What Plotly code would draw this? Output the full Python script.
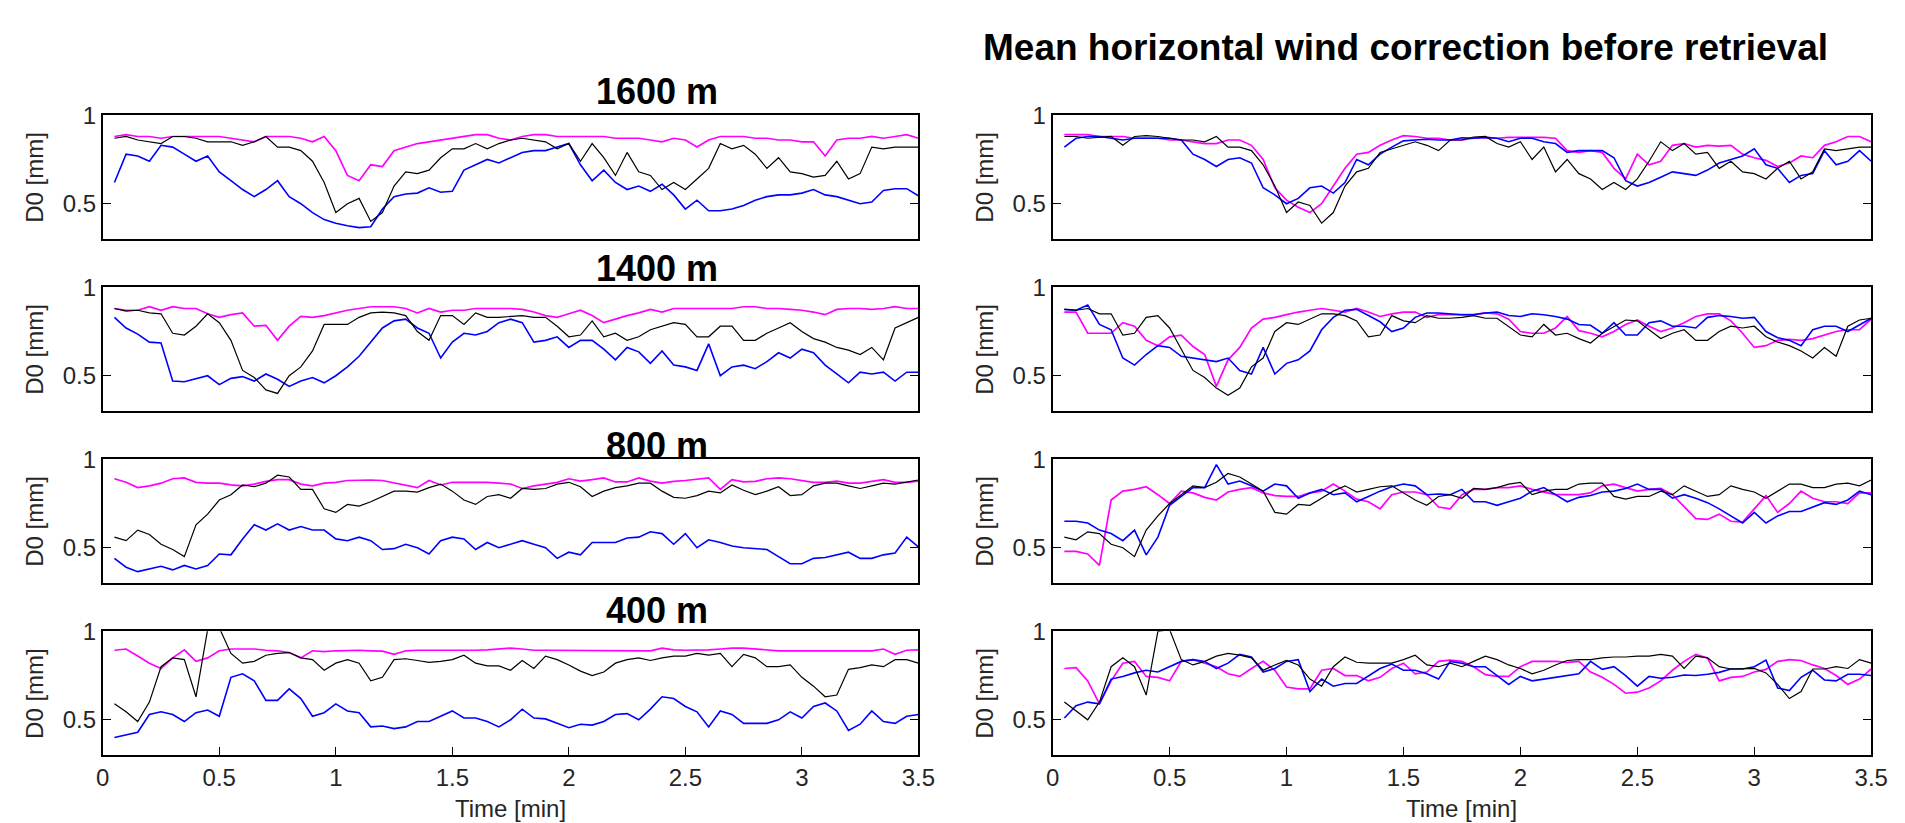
import plotly.graph_objects as go

# ---------------- data ----------------
time_min = [0.05, 0.10, 0.15, 0.20, 0.25, 0.30, 0.35, 0.40, 0.45, 0.50,
            0.55, 0.60, 0.65, 0.70, 0.75, 0.80, 0.85, 0.90, 0.95, 1.00,
            1.05, 1.10, 1.15, 1.20, 1.25, 1.30, 1.35, 1.40, 1.45, 1.50,
            1.55, 1.60, 1.65, 1.70, 1.75, 1.80, 1.85, 1.90, 1.95, 2.00,
            2.05, 2.10, 2.15, 2.20, 2.25, 2.30, 2.35, 2.40, 2.45, 2.50,
            2.55, 2.60, 2.65, 2.70, 2.75, 2.80, 2.85, 2.90, 2.95, 3.00,
            3.05, 3.10, 3.15, 3.20, 3.25, 3.30, 3.35, 3.40, 3.45, 3.50]

# ---- left column (no correction) ----
h1600_magenta = [0.88, 0.89, 0.88, 0.88, 0.87, 0.88, 0.88, 0.88, 0.88, 0.88,
                 0.87, 0.86, 0.85, 0.88, 0.88, 0.88, 0.87, 0.85, 0.88, 0.80,
                 0.66, 0.63, 0.72, 0.71, 0.80, 0.82, 0.84, 0.85, 0.86, 0.87,
                 0.88, 0.89, 0.89, 0.87, 0.86, 0.88, 0.89, 0.89, 0.88, 0.88,
                 0.88, 0.88, 0.88, 0.87, 0.87, 0.87, 0.86, 0.85, 0.87, 0.86,
                 0.82, 0.86, 0.88, 0.88, 0.88, 0.87, 0.87, 0.86, 0.86, 0.85,
                 0.85, 0.77, 0.86, 0.87, 0.87, 0.88, 0.87, 0.88, 0.89, 0.87]
h1600_black = [0.87, 0.88, 0.86, 0.85, 0.84, 0.88, 0.88, 0.87, 0.85, 0.85,
               0.85, 0.83, 0.85, 0.88, 0.82, 0.82, 0.80, 0.74, 0.62, 0.45,
               0.50, 0.53, 0.40, 0.45, 0.60, 0.68, 0.67, 0.69, 0.76, 0.81,
               0.81, 0.84, 0.81, 0.84, 0.86, 0.87, 0.86, 0.85, 0.81, 0.84,
               0.74, 0.84, 0.76, 0.66, 0.79, 0.68, 0.66, 0.58, 0.62, 0.58,
               0.64, 0.70, 0.84, 0.81, 0.83, 0.78, 0.70, 0.76, 0.68, 0.67,
               0.65, 0.66, 0.74, 0.64, 0.67, 0.82, 0.81, 0.82, 0.82, 0.82]
h1600_blue = [0.62, 0.78, 0.77, 0.74, 0.83, 0.82, 0.78, 0.74, 0.77, 0.68,
              0.63, 0.58, 0.54, 0.58, 0.63, 0.54, 0.50, 0.45, 0.41, 0.39,
              0.375, 0.365, 0.37, 0.47, 0.54, 0.555, 0.56, 0.59, 0.565, 0.57,
              0.69, 0.72, 0.75, 0.73, 0.76, 0.79, 0.80, 0.80, 0.82, 0.84,
              0.72, 0.63, 0.69, 0.62, 0.58, 0.60, 0.57, 0.61, 0.55, 0.47,
              0.52, 0.46, 0.46, 0.47, 0.49, 0.52, 0.54, 0.55, 0.55, 0.56,
              0.58, 0.55, 0.54, 0.52, 0.50, 0.51, 0.575, 0.585, 0.585, 0.545]

h1400_magenta = [0.88, 0.87, 0.87, 0.89, 0.87, 0.89, 0.88, 0.88, 0.85, 0.83,
                 0.845, 0.855, 0.78, 0.785, 0.70, 0.78, 0.835, 0.83, 0.84, 0.855,
                 0.87, 0.88, 0.89, 0.89, 0.89, 0.88, 0.855, 0.88, 0.86, 0.87,
                 0.87, 0.88, 0.88, 0.88, 0.88, 0.875, 0.86, 0.84, 0.83, 0.85,
                 0.87, 0.84, 0.80, 0.82, 0.84, 0.855, 0.875, 0.86, 0.88, 0.88,
                 0.88, 0.88, 0.88, 0.88, 0.89, 0.89, 0.88, 0.88, 0.875, 0.87,
                 0.86, 0.845, 0.875, 0.88, 0.88, 0.875, 0.88, 0.89, 0.88, 0.88]
h1400_black = [0.88, 0.865, 0.87, 0.855, 0.85, 0.74, 0.73, 0.78, 0.85, 0.80,
               0.70, 0.53, 0.49, 0.42, 0.40, 0.50, 0.55, 0.64, 0.79, 0.79,
               0.79, 0.83, 0.855, 0.86, 0.855, 0.84, 0.75, 0.70, 0.84, 0.84,
               0.79, 0.855, 0.83, 0.83, 0.835, 0.84, 0.83, 0.83, 0.78, 0.72,
               0.73, 0.81, 0.72, 0.74, 0.70, 0.72, 0.76, 0.78, 0.80, 0.79,
               0.72, 0.72, 0.78, 0.78, 0.70, 0.70, 0.74, 0.77, 0.80, 0.75,
               0.71, 0.69, 0.66, 0.645, 0.62, 0.66, 0.59, 0.77, 0.80, 0.83]
h1400_blue = [0.83, 0.77, 0.735, 0.69, 0.685, 0.47, 0.466, 0.485, 0.50, 0.45,
              0.485, 0.495, 0.47, 0.51, 0.48, 0.44, 0.47, 0.49, 0.46, 0.50,
              0.55, 0.61, 0.69, 0.77, 0.81, 0.82, 0.77, 0.74, 0.60, 0.69,
              0.74, 0.73, 0.75, 0.80, 0.82, 0.80, 0.69, 0.70, 0.72, 0.66,
              0.70, 0.70, 0.65, 0.59, 0.66, 0.635, 0.57, 0.64, 0.56, 0.55,
              0.53, 0.68, 0.50, 0.55, 0.56, 0.54, 0.58, 0.63, 0.60, 0.65,
              0.63, 0.56, 0.51, 0.46, 0.52, 0.51, 0.52, 0.47, 0.52, 0.52]

h800_magenta = [0.89, 0.87, 0.84, 0.85, 0.865, 0.89, 0.895, 0.87, 0.865, 0.865,
                0.855, 0.85, 0.86, 0.875, 0.885, 0.885, 0.86, 0.85, 0.865, 0.87,
                0.88, 0.883, 0.883, 0.88, 0.867, 0.855, 0.84, 0.88, 0.855, 0.87,
                0.87, 0.87, 0.87, 0.865, 0.86, 0.835, 0.85, 0.86, 0.87, 0.89,
                0.877, 0.885, 0.895, 0.872, 0.872, 0.895, 0.877, 0.865, 0.875, 0.88,
                0.886, 0.895, 0.83, 0.885, 0.872, 0.875, 0.89, 0.895, 0.89, 0.88,
                0.87, 0.87, 0.877, 0.865, 0.865, 0.875, 0.885, 0.87, 0.87, 0.877]
h800_black = [0.56, 0.54, 0.60, 0.575, 0.52, 0.49, 0.45, 0.63, 0.69, 0.77,
              0.80, 0.855, 0.845, 0.865, 0.91, 0.90, 0.83, 0.83, 0.72, 0.70,
              0.745, 0.735, 0.76, 0.79, 0.82, 0.82, 0.815, 0.84, 0.86, 0.82,
              0.77, 0.745, 0.79, 0.80, 0.78, 0.835, 0.83, 0.835, 0.86, 0.87,
              0.845, 0.79, 0.82, 0.84, 0.85, 0.865, 0.865, 0.82, 0.785, 0.78,
              0.795, 0.82, 0.81, 0.855, 0.825, 0.80, 0.82, 0.845, 0.795, 0.80,
              0.85, 0.865, 0.865, 0.85, 0.835, 0.85, 0.865, 0.86, 0.87, 0.883]
h800_blue = [0.44, 0.39, 0.365, 0.38, 0.395, 0.375, 0.40, 0.38, 0.40, 0.465,
             0.46, 0.55, 0.63, 0.60, 0.635, 0.60, 0.62, 0.60, 0.60, 0.55,
             0.54, 0.56, 0.54, 0.49, 0.495, 0.52, 0.50, 0.465, 0.54, 0.56,
             0.55, 0.49, 0.53, 0.50, 0.52, 0.54, 0.52, 0.50, 0.44, 0.475,
             0.46, 0.53, 0.53, 0.53, 0.555, 0.56, 0.59, 0.58, 0.52, 0.58,
             0.50, 0.545, 0.53, 0.51, 0.50, 0.495, 0.49, 0.45, 0.41, 0.41,
             0.44, 0.445, 0.46, 0.475, 0.44, 0.44, 0.46, 0.47, 0.56, 0.505]

h400_magenta = [0.893, 0.90, 0.86, 0.82, 0.79, 0.85, 0.895, 0.83, 0.85, 0.89,
                0.90, 0.90, 0.90, 0.893, 0.89, 0.88, 0.85, 0.89, 0.885, 0.89,
                0.893, 0.893, 0.89, 0.888, 0.87, 0.89, 0.893, 0.893, 0.89, 0.89,
                0.89, 0.893, 0.895, 0.90, 0.905, 0.90, 0.893, 0.893, 0.893, 0.893,
                0.893, 0.893, 0.893, 0.89, 0.89, 0.893, 0.89, 0.905, 0.895, 0.893,
                0.893, 0.895, 0.90, 0.905, 0.905, 0.90, 0.893, 0.89, 0.89, 0.89,
                0.89, 0.89, 0.89, 0.89, 0.89, 0.89, 0.90, 0.87, 0.893, 0.895]
h400_black = [0.59, 0.545, 0.49, 0.60, 0.80, 0.85, 0.84, 0.63, 1.01, 1.02,
              0.875, 0.82, 0.83, 0.865, 0.875, 0.88, 0.85, 0.84, 0.78, 0.82,
              0.84, 0.82, 0.72, 0.74, 0.84, 0.845, 0.835, 0.825, 0.83, 0.84,
              0.865, 0.82, 0.805, 0.805, 0.78, 0.835, 0.79, 0.86, 0.84, 0.81,
              0.775, 0.75, 0.77, 0.82, 0.84, 0.85, 0.835, 0.85, 0.86, 0.86,
              0.875, 0.865, 0.875, 0.80, 0.87, 0.85, 0.80, 0.80, 0.81, 0.74,
              0.69, 0.63, 0.64, 0.785, 0.795, 0.81, 0.80, 0.84, 0.84, 0.82]
h400_blue = [0.40, 0.415, 0.43, 0.53, 0.545, 0.53, 0.49, 0.54, 0.555, 0.52,
             0.74, 0.76, 0.72, 0.61, 0.61, 0.675, 0.62, 0.52, 0.54, 0.59,
             0.55, 0.54, 0.46, 0.465, 0.45, 0.46, 0.49, 0.49, 0.52, 0.55,
             0.51, 0.51, 0.49, 0.46, 0.50, 0.56, 0.51, 0.505, 0.48, 0.455,
             0.475, 0.47, 0.49, 0.53, 0.535, 0.50, 0.56, 0.63, 0.62, 0.575,
             0.545, 0.46, 0.55, 0.53, 0.48, 0.48, 0.48, 0.50, 0.545, 0.51,
             0.575, 0.595, 0.55, 0.44, 0.475, 0.55, 0.49, 0.48, 0.52, 0.53]

# ---- right column (mean horizontal wind correction before retrieval) ----
c1600_magenta = [0.89, 0.89, 0.89, 0.88, 0.88, 0.88, 0.87, 0.87, 0.87, 0.86,
                 0.86, 0.85, 0.84, 0.84, 0.86, 0.86, 0.83, 0.75, 0.59, 0.52,
                 0.48, 0.45, 0.50, 0.60, 0.70, 0.78, 0.79, 0.83, 0.86, 0.885,
                 0.88, 0.87, 0.87, 0.86, 0.86, 0.87, 0.875, 0.87, 0.875, 0.875,
                 0.875, 0.875, 0.87, 0.80, 0.79, 0.80, 0.79, 0.70, 0.64, 0.78,
                 0.72, 0.74, 0.83, 0.84, 0.82, 0.83, 0.825, 0.83, 0.78, 0.76,
                 0.745, 0.71, 0.73, 0.77, 0.76, 0.83, 0.85, 0.88, 0.88, 0.85]
c1600_black = [0.88, 0.88, 0.87, 0.875, 0.88, 0.83, 0.88, 0.885, 0.88, 0.87,
               0.86, 0.86, 0.85, 0.88, 0.82, 0.82, 0.80, 0.72, 0.60, 0.45,
               0.51, 0.49, 0.39, 0.45, 0.60, 0.68, 0.70, 0.79, 0.81, 0.83,
               0.85, 0.83, 0.80, 0.86, 0.86, 0.877, 0.88, 0.84, 0.82, 0.85,
               0.75, 0.82, 0.68, 0.75, 0.67, 0.64, 0.58, 0.62, 0.58, 0.64,
               0.74, 0.85, 0.80, 0.84, 0.78, 0.79, 0.70, 0.74, 0.68, 0.67,
               0.64, 0.70, 0.74, 0.64, 0.68, 0.81, 0.80, 0.81, 0.82, 0.82]
c1600_blue = [0.82, 0.87, 0.88, 0.88, 0.87, 0.86, 0.87, 0.87, 0.87, 0.87,
              0.86, 0.78, 0.75, 0.71, 0.75, 0.76, 0.73, 0.59, 0.55, 0.50,
              0.53, 0.59, 0.60, 0.56, 0.62, 0.75, 0.72, 0.78, 0.82, 0.855,
              0.86, 0.864, 0.86, 0.86, 0.873, 0.87, 0.875, 0.87, 0.85, 0.87,
              0.87, 0.85, 0.84, 0.79, 0.80, 0.80, 0.80, 0.76, 0.63, 0.60,
              0.62, 0.65, 0.68, 0.67, 0.66, 0.69, 0.73, 0.75, 0.77, 0.81,
              0.72, 0.70, 0.62, 0.66, 0.67, 0.80, 0.72, 0.74, 0.80, 0.74]

c1400_magenta = [0.86, 0.86, 0.74, 0.74, 0.74, 0.80, 0.78, 0.70, 0.67, 0.72,
                 0.73, 0.665, 0.62, 0.44, 0.59, 0.66, 0.77, 0.82, 0.83, 0.845,
                 0.86, 0.87, 0.88, 0.87, 0.86, 0.88, 0.86, 0.835, 0.85, 0.86,
                 0.86, 0.83, 0.845, 0.845, 0.845, 0.845, 0.855, 0.85, 0.82, 0.75,
                 0.74, 0.74, 0.77, 0.835, 0.755, 0.74, 0.72, 0.75, 0.79, 0.815,
                 0.78, 0.75, 0.77, 0.80, 0.835, 0.85, 0.85, 0.81, 0.74, 0.66,
                 0.67, 0.70, 0.705, 0.70, 0.71, 0.73, 0.75, 0.76, 0.76, 0.82]
c1400_black = [0.875, 0.87, 0.88, 0.85, 0.85, 0.73, 0.74, 0.83, 0.84, 0.77,
               0.65, 0.53, 0.49, 0.43, 0.39, 0.43, 0.55, 0.60, 0.75, 0.80,
               0.79, 0.82, 0.85, 0.85, 0.84, 0.81, 0.72, 0.73, 0.84, 0.81,
               0.80, 0.84, 0.825, 0.825, 0.83, 0.84, 0.825, 0.825, 0.78, 0.73,
               0.72, 0.79, 0.73, 0.74, 0.71, 0.685, 0.74, 0.78, 0.815, 0.81,
               0.76, 0.71, 0.74, 0.76, 0.70, 0.70, 0.75, 0.78, 0.77, 0.78,
               0.72, 0.69, 0.67, 0.64, 0.60, 0.66, 0.61, 0.78, 0.815, 0.825]
c1400_blue = [0.875, 0.87, 0.90, 0.79, 0.76, 0.60, 0.56, 0.62, 0.67, 0.66,
              0.61, 0.60, 0.59, 0.58, 0.60, 0.53, 0.51, 0.66, 0.51, 0.57,
              0.59, 0.64, 0.76, 0.83, 0.87, 0.875, 0.84, 0.805, 0.75, 0.77,
              0.83, 0.855, 0.855, 0.85, 0.845, 0.845, 0.855, 0.86, 0.84, 0.835,
              0.85, 0.845, 0.835, 0.82, 0.79, 0.785, 0.74, 0.80, 0.73, 0.73,
              0.80, 0.81, 0.78, 0.78, 0.77, 0.83, 0.84, 0.835, 0.825, 0.83,
              0.75, 0.715, 0.70, 0.67, 0.76, 0.78, 0.78, 0.75, 0.79, 0.825]

c800_magenta = [0.48, 0.48, 0.465, 0.40, 0.77, 0.82, 0.83, 0.845, 0.80, 0.75,
                0.82, 0.81, 0.785, 0.77, 0.815, 0.83, 0.84, 0.81, 0.795, 0.79,
                0.79, 0.81, 0.82, 0.86, 0.82, 0.775, 0.76, 0.72, 0.80, 0.815,
                0.815, 0.80, 0.73, 0.72, 0.80, 0.83, 0.83, 0.84, 0.84, 0.85,
                0.83, 0.815, 0.80, 0.80, 0.80, 0.81, 0.85, 0.86, 0.84, 0.82,
                0.83, 0.835, 0.80, 0.73, 0.665, 0.66, 0.69, 0.65, 0.645, 0.72,
                0.795, 0.70, 0.75, 0.82, 0.78, 0.76, 0.76, 0.75, 0.81, 0.81]
c800_black = [0.56, 0.545, 0.59, 0.58, 0.52, 0.50, 0.45, 0.60, 0.68, 0.75,
              0.80, 0.85, 0.84, 0.87, 0.92, 0.90, 0.86, 0.82, 0.70, 0.69,
              0.745, 0.74, 0.78, 0.82, 0.85, 0.815, 0.83, 0.845, 0.85, 0.81,
              0.77, 0.74, 0.79, 0.80, 0.78, 0.835, 0.83, 0.84, 0.86, 0.87,
              0.80, 0.82, 0.83, 0.83, 0.86, 0.865, 0.865, 0.79, 0.775, 0.79,
              0.79, 0.82, 0.80, 0.85, 0.82, 0.79, 0.80, 0.85, 0.83, 0.815,
              0.78, 0.82, 0.86, 0.86, 0.84, 0.84, 0.86, 0.865, 0.85, 0.883]
c800_blue = [0.65, 0.65, 0.64, 0.60, 0.58, 0.54, 0.60, 0.46, 0.56, 0.74,
             0.79, 0.84, 0.84, 0.97, 0.86, 0.877, 0.85, 0.82, 0.86, 0.85,
             0.78, 0.81, 0.83, 0.80, 0.81, 0.76, 0.79, 0.82, 0.845, 0.86,
             0.85, 0.80, 0.804, 0.80, 0.83, 0.76, 0.76, 0.74, 0.76, 0.78,
             0.82, 0.84, 0.80, 0.76, 0.785, 0.795, 0.815, 0.82, 0.835, 0.86,
             0.83, 0.83, 0.78, 0.80, 0.78, 0.755, 0.72, 0.68, 0.64, 0.70,
             0.64, 0.68, 0.705, 0.705, 0.73, 0.755, 0.745, 0.77, 0.82, 0.80]

c400_magenta = [0.79, 0.795, 0.72, 0.59, 0.72, 0.82, 0.83, 0.745, 0.74, 0.72,
                0.83, 0.84, 0.82, 0.80, 0.76, 0.745, 0.79, 0.83, 0.78, 0.685,
                0.675, 0.675, 0.78, 0.79, 0.75, 0.75, 0.72, 0.74, 0.79, 0.82,
                0.76, 0.77, 0.83, 0.837, 0.83, 0.80, 0.755, 0.745, 0.745, 0.80,
                0.83, 0.83, 0.83, 0.825, 0.83, 0.77, 0.74, 0.70, 0.65, 0.656,
                0.68, 0.72, 0.78, 0.83, 0.87, 0.85, 0.72, 0.74, 0.745, 0.77,
                0.785, 0.83, 0.84, 0.835, 0.81, 0.79, 0.75, 0.70, 0.73, 0.787]
c400_black = [0.60, 0.55, 0.50, 0.60, 0.80, 0.85, 0.80, 0.64, 1.00, 1.01,
              0.84, 0.81, 0.83, 0.86, 0.875, 0.865, 0.85, 0.78, 0.81, 0.835,
              0.81, 0.73, 0.69, 0.80, 0.855, 0.825, 0.82, 0.82, 0.82, 0.84,
              0.865, 0.81, 0.80, 0.82, 0.80, 0.83, 0.86, 0.84, 0.81, 0.79,
              0.76, 0.78, 0.81, 0.835, 0.84, 0.84, 0.85, 0.855, 0.855, 0.86,
              0.86, 0.87, 0.86, 0.79, 0.86, 0.85, 0.80, 0.787, 0.79, 0.79,
              0.765, 0.70, 0.62, 0.66, 0.787, 0.787, 0.80, 0.79, 0.84, 0.82]
c400_blue = [0.51, 0.58, 0.60, 0.59, 0.73, 0.745, 0.765, 0.78, 0.77, 0.80,
             0.83, 0.84, 0.83, 0.79, 0.82, 0.87, 0.855, 0.77, 0.79, 0.83,
             0.84, 0.66, 0.73, 0.69, 0.705, 0.705, 0.75, 0.79, 0.815, 0.78,
             0.78, 0.76, 0.73, 0.83, 0.82, 0.80, 0.80, 0.75, 0.70, 0.745,
             0.72, 0.73, 0.74, 0.75, 0.76, 0.83, 0.785, 0.80, 0.75, 0.69,
             0.745, 0.735, 0.74, 0.753, 0.75, 0.757, 0.768, 0.787, 0.787, 0.80,
             0.837, 0.68, 0.665, 0.74, 0.78, 0.725, 0.72, 0.757, 0.757, 0.75]

main_title = "Mean horizontal wind correction before retrieval"
row_titles = ["1600 m", "1400 m", "800 m", "400 m"]
x_ticks = [0, 0.5, 1, 1.5, 2, 2.5, 3, 3.5]
x_tick_text = ["0", "0.5", "1", "1.5", "2", "2.5", "3", "3.5"]
y_ticks = [0.5, 1]
y_tick_text = ["0.5", "1"]
y_label = "D0 [mm]"
x_label = "Time [min]"

panels = [
    [(h1600_magenta, h1600_blue, h1600_black), (c1600_magenta, c1600_blue, c1600_black)],
    [(h1400_magenta, h1400_blue, h1400_black), (c1400_magenta, c1400_blue, c1400_black)],
    [(h800_magenta, h800_blue, h800_black), (c800_magenta, c800_blue, c800_black)],
    [(h400_magenta, h400_blue, h400_black), (c400_magenta, c400_blue, c400_black)],
]

# ---------------- layout geometry (pixels) ----------------
W, H = 1905, 823
col_px = [(97, 923), (1059, 1888)]
row_top_px = [103, 278, 453, 628]
row_h_px = 126
subtitle_y_px = [79, 259, 439, 607]
subtitle_x_px = 658

FONT = "Liberation Sans, Arial, Helvetica, sans-serif"
TXT = "#262626"
colors = ["#FF00FF", "#0000FF", "#000000"]
widths = [1.7, 1.6, 1.2]

fig = go.Figure()
layout = dict(
    width=W, height=H,
    margin=dict(l=0, r=0, t=0, b=0),
    paper_bgcolor="white", plot_bgcolor="white",
    showlegend=False,
    font=dict(family=FONT, color=TXT),
)
annotations = []

for r in range(4):
    for c in range(2):
        k = r * 2 + c + 1
        sfx = "" if k == 1 else str(k)
        series = panels[r][c]
        for vals, col, w in zip(series, colors, widths):
            fig.add_trace(go.Scatter(
                x=time_min, y=vals, mode="lines",
                line=dict(color=col, width=w),
                xaxis="x" + sfx, yaxis="y" + sfx,
                hoverinfo="skip",
            ))
        x0, x1 = col_px[c]
        top = row_top_px[r]
        bot = top + row_h_px
        bottom_row = (r == 3)
        layout["xaxis" + sfx] = dict(
            domain=[x0 / W, x1 / W], anchor="y" + sfx,
            range=[0, 3.5], showgrid=False, zeroline=False,
            showline=True, linecolor="black", linewidth=1.8, mirror=True,
            tickvals=x_ticks, ticktext=x_tick_text,
            ticks="inside" if bottom_row else "", ticklen=8, tickcolor="black",
            showticklabels=bottom_row, ticklabelstandoff=0,
            tickfont=dict(size=24, family=FONT, color=TXT),
            fixedrange=True,
        )
        layout["yaxis" + sfx] = dict(
            domain=[1 - bot / H, 1 - top / H], anchor="x" + sfx,
            range=[0.3, 1.0], showgrid=False, zeroline=False,
            showline=True, linecolor="black", linewidth=1.8, mirror="ticks",
            tickvals=y_ticks, ticktext=y_tick_text,
            ticks="inside", ticklen=8, tickcolor="black",
            ticklabelstandoff=0,
            tickfont=dict(size=24, family=FONT, color=TXT),
            fixedrange=True,
        )
        # y axis label
        annotations.append(dict(
            text=y_label, xref="paper", yref="paper",
            x=(x0 - 69) / W, y=1 - (top + row_h_px / 2) / H,
            xanchor="center", yanchor="middle", textangle=-90, showarrow=False,
            font=dict(size=24, family=FONT, color=TXT),
        ))
    # row subtitle
    annotations.append(dict(
        text="<b>" + row_titles[r] + "</b>", xref="paper", yref="paper",
        x=subtitle_x_px / W, y=1 - subtitle_y_px[r] / H,
        xanchor="center", yanchor="middle", showarrow=False,
        font=dict(size=36, family=FONT, color="black"),
    ))

for c in range(2):
    x0, x1 = col_px[c]
    annotations.append(dict(
        text=x_label, xref="paper", yref="paper",
        x=(x0 + x1) / 2 / W, y=1 - 808 / H,
        xanchor="center", yanchor="middle", showarrow=False,
        font=dict(size=24, family=FONT, color=TXT),
    ))

annotations.append(dict(
    text="<b>" + main_title + "</b>", xref="paper", yref="paper",
    x=1416 / W, y=1 - 34 / H, xanchor="center", yanchor="middle",
    showarrow=False, font=dict(size=37, family=FONT, color="black"),
))

layout["annotations"] = annotations
fig.update_layout(**layout)
fig.write_html("out.html")
